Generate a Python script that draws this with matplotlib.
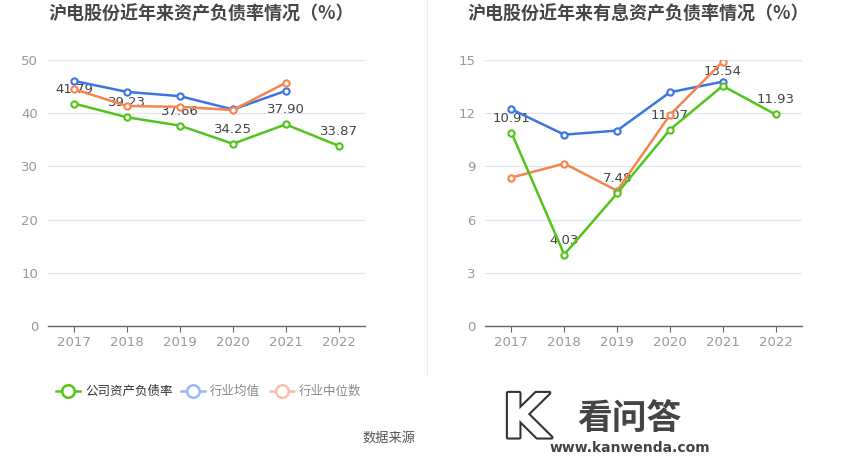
import matplotlib
matplotlib.use("Agg")
import matplotlib.pyplot as plt
import matplotlib.patheffects as pe
from matplotlib.lines import Line2D

plt.rcParams['font.family'] = ['Noto Sans CJK SC', 'DejaVu Sans']

years = [2017, 2018, 2019, 2020, 2021, 2022]

# Left chart: asset-liability ratio
left_company = [41.79, 39.23, 37.66, 34.25, 37.90, 33.87]
left_avg = [46.05, 44.0, 43.2, 40.7, 44.2]
left_median = [44.5, 41.35, 41.2, 40.6, 45.7]
left_ticks = [0, 10, 20, 30, 40, 50]

# Right chart: interest-bearing asset-liability ratio
right_company = [10.91, 4.03, 7.48, 11.07, 13.54, 11.93]
right_avg = [12.22, 10.79, 11.02, 13.18, 13.78]
right_median = [8.37, 9.16, 7.63, 11.9, 14.91]
right_ticks = [0, 3, 6, 9, 12, 15]

titles = ["沪电股份近年来资产负债率情况（%）", "沪电股份近年来有息资产负债率情况（%）"]
legend_labels = ["公司资产负债率", "行业均值", "行业中位数"]

GREEN = "#52c41a"
BLUE = "#3a75e2"
ORANGE = "#f5844f"
W, H = 850, 459

fig = plt.figure(figsize=(8.5, 4.59), dpi=100)

def fx(p):
    return p / W

def fy(p):
    return 1 - p / H

def draw(ax, company, avg, median, ticks, ymax):
    mk = dict(marker='o', markersize=4.5, markerfacecolor='white', markeredgewidth=1.5)
    ax.plot(years[:len(avg)], avg, color=BLUE, lw=1.8, zorder=4, **mk)
    ax.plot(years[:len(median)], median, color=ORANGE, lw=1.8, zorder=4, **mk)
    ax.plot(years, company, color=GREEN, lw=1.8, zorder=5, **mk)
    off = ymax * 0.03
    for x, v in zip(years, company):
        ax.text(x, v + off, f"{v:.2f}", ha='center', va='bottom', fontsize=9.5,
                color='#444444', zorder=3, family='DejaVu Sans')
    ax.set_xlim(2016.5, 2022.5)
    ax.set_ylim(0, ymax)
    ax.set_xticks(years)
    ax.set_xticklabels([str(y) for y in years], family='DejaVu Sans')
    ax.set_yticks(ticks)
    ax.set_yticklabels([str(t) for t in ticks], family='DejaVu Sans')
    ax.tick_params(axis='x', colors='#999999', labelsize=9.5, length=4, width=0.8, pad=3)
    ax.tick_params(axis='x', color='#666666')
    ax.tick_params(axis='y', colors='#999999', labelsize=9.5, length=0, pad=7)
    for s in ['top', 'right', 'left']:
        ax.spines[s].set_visible(False)
    ax.spines['bottom'].set_color('#666666')
    ax.spines['bottom'].set_linewidth(1.0)
    ax.grid(axis='y', color='#e0e6f1', lw=0.9, zorder=0)
    ax.set_axisbelow(True)

ax1 = fig.add_axes([fx(48), fy(326), fx(365 - 48), (326 - 60) / H])
draw(ax1, left_company, left_avg, left_median, left_ticks, 50)
ax2 = fig.add_axes([fx(485), fy(326), fx(802 - 485), (326 - 60) / H])
draw(ax2, right_company, right_avg, right_median, right_ticks, 15)

fig.text(fx(201), fy(14), titles[0], ha='center', va='center', fontsize=13,
         fontweight='bold', color='#464646')
fig.text(fx(638), fy(14), titles[1], ha='center', va='center', fontsize=13,
         fontweight='bold', color='#464646')

# separator
fig.add_artist(Line2D([fx(427), fx(427)], [fy(0), fy(375)], color='#eeeeee', lw=0.8))

# legend
leg_items = [(GREEN, legend_labels[0], '#333333', 56),
             ("#9ab8f3", legend_labels[1], '#8a8a8a', 181),
             ("#fbbfa5", legend_labels[2], '#8a8a8a', 270)]
ly = 391
for col, lab, tcol, x0 in leg_items:
    fig.add_artist(Line2D([fx(x0), fx(x0 + 24)], [fy(ly), fy(ly)], color=col, lw=1.8))
    fig.add_artist(Line2D([fx(x0 + 12)], [fy(ly)], color=col, marker='o', markersize=9,
                          markerfacecolor='white', markeredgewidth=1.8))
    fig.text(fx(x0 + 29), fy(ly), lab, ha='left', va='center', fontsize=9, color=tcol)

fig.text(fx(389), fy(438), "数据来源", ha='center', va='center', fontsize=9.5, color='#555555')

# logo
fig.text(fx(526), fy(421), "K", ha='center', va='center', fontsize=44,
         fontweight='bold', color='white', family='DejaVu Sans',
         path_effects=[pe.Stroke(linewidth=3, foreground='#333333'), pe.Normal()])
fig.text(fx(629), fy(418), "看问答", ha='center', va='center', fontsize=25,
         fontweight='bold', color='#444444')
fig.text(fx(630), fy(448), "www.kanwenda.com", ha='center', va='center', fontsize=10,
         fontweight='bold', color='#444444', family='DejaVu Sans')

fig.savefig("out.png", dpi=100)
